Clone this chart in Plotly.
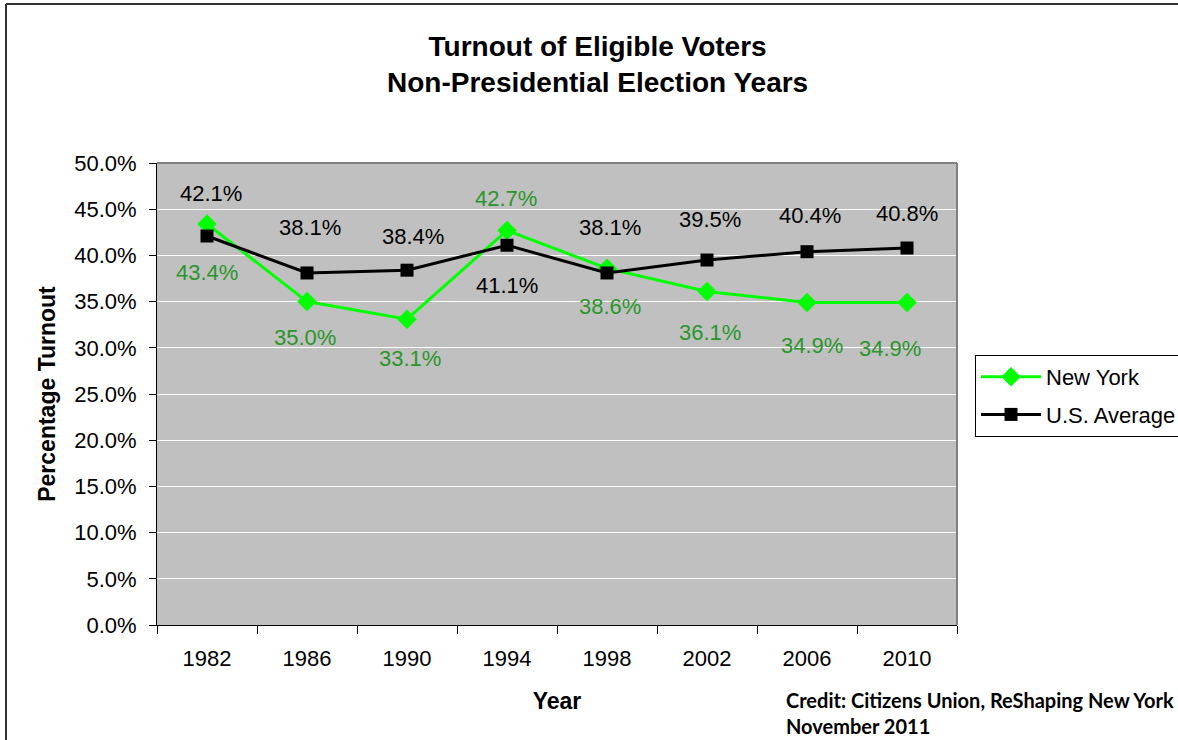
import plotly.graph_objects as go

# Election years and turnout of eligible voters (fraction)
years = ["1982", "1986", "1990", "1994", "1998", "2002", "2006", "2010"]
new_york = [0.434, 0.350, 0.331, 0.427, 0.386, 0.361, 0.349, 0.349]
us_average = [0.421, 0.381, 0.384, 0.411, 0.381, 0.395, 0.404, 0.408]

# Hand-placed data label offsets in pixels (dx, dy)
us_label_offsets = [(4, 43), (3, 45), (6, 34), (0, -40), (3, 45), (3, 41), (3, 36), (0, 35)]
ny_label_offsets = [(0, -49), (-2, -36), (3, -39), (-1, 32), (3, -38), (3, -41), (5, -43), (-17, -46)]

W, H = 1178, 740
L, R, T, B = 157, 957, 163, 625  # plot area edges in pixels
PW, PH = R - L, B - T


def px_x(x):
    return (x - L) / PW


def px_y(y):
    return (B - y) / PH


FONT = "Arial, Liberation Sans, sans-serif"
GREEN_LINE = "#00FF00"
GREEN_TEXT = "#2A962A"

fig = go.Figure()
fig.add_trace(go.Scatter(
    x=years, y=new_york, name="New York", mode="lines+markers", legendgroup="ny",
    line=dict(color=GREEN_LINE, width=3),
    marker=dict(symbol="diamond", size=15, color=GREEN_LINE),
))
fig.add_trace(go.Scatter(
    x=years, y=us_average, name="U.S. Average", mode="lines+markers", legendgroup="us",
    line=dict(color="black", width=3),
    marker=dict(symbol="square", size=13, color="black"),
))

# Data labels; on a category axis the position is the category's index
annotations = []
for i, (v, (dx, dy)) in enumerate(zip(us_average, us_label_offsets)):
    annotations.append(dict(x=i, y=v, xref="x", yref="y", text=f"{v*100:.1f}%", showarrow=False,
                            xshift=dx, yshift=dy, font=dict(size=22, color="black", family=FONT)))
for i, (v, (dx, dy)) in enumerate(zip(new_york, ny_label_offsets)):
    annotations.append(dict(x=i, y=v, xref="x", yref="y", text=f"{v*100:.1f}%", showarrow=False,
                            xshift=dx, yshift=dy, font=dict(size=22, color=GREEN_TEXT, family=FONT)))

# Chart title
annotations.append(dict(
    xref="paper", yref="paper", x=px_x(597), y=px_y(64), xanchor="center", yanchor="middle",
    text="<b>Turnout of Eligible Voters<br>Non-Presidential Election Years</b>",
    showarrow=False, font=dict(size=28, color="black", family=FONT),
))
# Source note
annotations.append(dict(
    xref="paper", yref="paper", x=px_x(784), y=px_y(686), xanchor="left", yanchor="top",
    align="left",
    text="<b>Credit: Citizens Union, ReShaping New York<br>November 2011</b>",
    showarrow=False, font=dict(size=20, color="black", family="Lato, Open Sans, sans-serif"),
))

shapes = [
    # outer frame (left and top edges)
    dict(type="line", xref="paper", yref="paper", x0=px_x(6), x1=px_x(6), y0=px_y(4), y1=px_y(740),
         line=dict(color="#333333", width=2)),
    dict(type="line", xref="paper", yref="paper", x0=px_x(6), x1=px_x(1178), y0=px_y(4), y1=px_y(4),
         line=dict(color="#333333", width=2)),
    # grey plot border (top and right)
    dict(type="line", xref="paper", yref="paper", x0=0, x1=1, y0=1, y1=1,
         line=dict(color="#808080", width=2)),
    dict(type="line", xref="paper", yref="paper", x0=1, x1=1, y0=0, y1=1,
         line=dict(color="#808080", width=2)),
]

fig.update_layout(
    width=W, height=H,
    margin=dict(l=L, r=W - R, t=T, b=H - B, autoexpand=False),
    paper_bgcolor="white", plot_bgcolor="#C0C0C0",
    font=dict(family=FONT, color="black"),
    showlegend=True,
    legend=dict(
        x=px_x(975), y=px_y(355), xanchor="left", yanchor="top",
        bgcolor="white", bordercolor="black", borderwidth=1,
        font=dict(size=22, family=FONT), itemwidth=60, tracegroupgap=6,
    ),
    annotations=annotations,
    shapes=shapes,
)
fig.update_xaxes(
    type="category", range=[-0.5, 7.5],
    showline=True, linecolor="black", linewidth=1,
    ticks="outside", ticklen=8, tickcolor="black", tickson="boundaries",
    tickfont=dict(size=22), showgrid=False, ticklabelstandoff=14,
    title=dict(text="<b>Year</b>", font=dict(size=23), standoff=22),
)
fig.update_yaxes(
    range=[0, 0.5], dtick=0.05, tickformat=".1%",
    showline=True, linecolor="black", linewidth=1,
    ticks="outside", ticklen=7, tickcolor="black", ticklabelstandoff=8,
    tickfont=dict(size=22), gridcolor="white", gridwidth=1, zeroline=False,
    title=dict(text="<b>Percentage Turnout</b>", font=dict(size=23), standoff=12),
)

fig.write_html("out.html", config={"displayModeBar": False})
